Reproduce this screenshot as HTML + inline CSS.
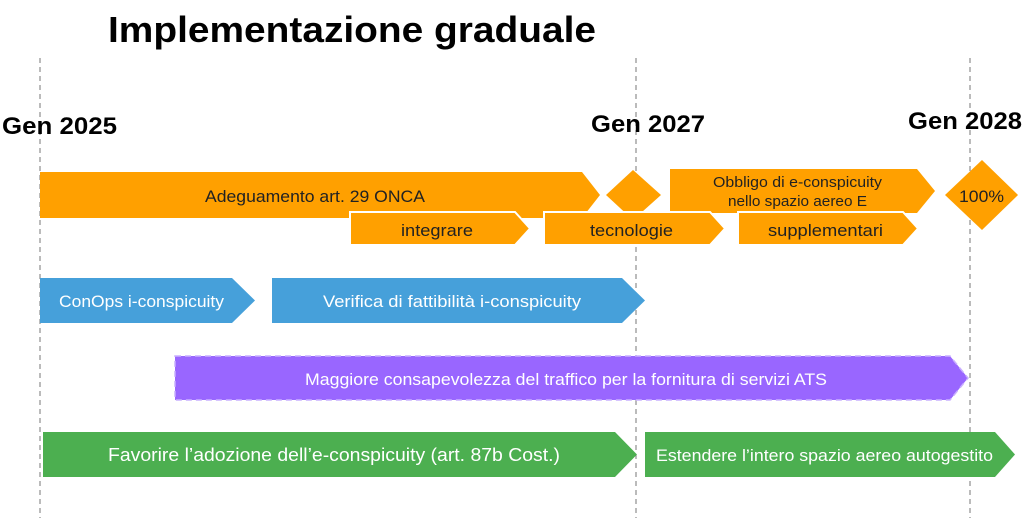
<!DOCTYPE html>
<html><head><meta charset="utf-8"><style>
html,body{margin:0;padding:0;background:#fff;}
svg{display:block;font-family:"Liberation Sans",sans-serif;}
</style></head><body>
<svg width="1024" height="530" viewBox="0 0 1024 530">
<rect width="1024" height="530" fill="#fff"/>
<g stroke="#777" stroke-width="1" stroke-dasharray="5,4">
<line x1="40" y1="58" x2="40" y2="518"/>
<line x1="636" y1="58" x2="636" y2="518"/>
<line x1="970" y1="58" x2="970" y2="518"/>
</g>
<text x="108" y="42" font-size="36" font-weight="bold" textLength="488" lengthAdjust="spacingAndGlyphs">Implementazione graduale</text>
<g font-size="24" font-weight="bold">
<text x="2" y="134" textLength="115" lengthAdjust="spacingAndGlyphs">Gen 2025</text>
<text x="591" y="132" textLength="114" lengthAdjust="spacingAndGlyphs">Gen 2027</text>
<text x="908" y="129" textLength="114" lengthAdjust="spacingAndGlyphs">Gen 2028</text>
</g>
<g fill="#ffa000">
<polygon points="40,172 582,172 600,195 582,218 40,218"/>
<polygon points="633,170 661,195 633,220 606,195"/>
<polygon points="670,169 917,169 935,191 917,213 670,213"/>
<polygon points="982,160 1018,195 982,230 945,195"/>
</g>
<g fill="#ffa000" stroke="#fff" stroke-width="2">
<polygon points="350,212 515,212 530,228.5 515,245 350,245"/>
<polygon points="544,212 710,212 725,228.5 710,245 544,245"/>
<polygon points="738,212 903,212 918,228.5 903,245 738,245"/>
</g>
<g font-size="17" fill="#222" lengthAdjust="spacingAndGlyphs">
<text x="205" y="202" textLength="220" lengthAdjust="spacingAndGlyphs">Adeguamento art. 29 ONCA</text>
<text x="401" y="236" textLength="72" lengthAdjust="spacingAndGlyphs">integrare</text>
<text x="590" y="236" textLength="83" lengthAdjust="spacingAndGlyphs">tecnologie</text>
<text x="768" y="236" textLength="115" lengthAdjust="spacingAndGlyphs">supplementari</text>
<text x="959" y="202" textLength="45" lengthAdjust="spacingAndGlyphs">100%</text>
<text x="713" y="187" font-size="15" textLength="169" lengthAdjust="spacingAndGlyphs">Obbligo di e-conspicuity</text>
<text x="728" y="206" font-size="15" textLength="139" lengthAdjust="spacingAndGlyphs">nello spazio aereo E</text>
</g>
<g fill="#46a0da">
<polygon points="40,278 232,278 255,300.5 232,323 40,323"/>
<polygon points="272,278 622,278 645,300.5 622,323 272,323"/>
</g>
<g font-size="17" fill="#fff">
<text x="59" y="307" textLength="165" lengthAdjust="spacingAndGlyphs">ConOps i-conspicuity</text>
<text x="323" y="307" textLength="258" lengthAdjust="spacingAndGlyphs">Verifica di fattibilità i-conspicuity</text>
</g>
<polygon points="175,356 950,356 968,378 950,400 175,400" fill="#9966ff" stroke="#c9b0ff" stroke-width="1.5" stroke-dasharray="6,4"/>
<text x="305" y="385" font-size="17" fill="#fff" textLength="522" lengthAdjust="spacingAndGlyphs">Maggiore consapevolezza del traffico per la fornitura di servizi ATS</text>
<g fill="#4caf50">
<polygon points="43,432 615,432 637,454.5 615,477 43,477"/>
<polygon points="645,432 995,432 1015,454.5 995,477 645,477"/>
</g>
<g fill="#fff">
<text x="108" y="461" font-size="18" textLength="452" lengthAdjust="spacingAndGlyphs">Favorire l’adozione dell’e-conspicuity (art. 87b Cost.)</text>
<text x="656" y="461" font-size="17" textLength="337" lengthAdjust="spacingAndGlyphs">Estendere l’intero spazio aereo autogestito</text>
</g>
</svg>
</body></html>
